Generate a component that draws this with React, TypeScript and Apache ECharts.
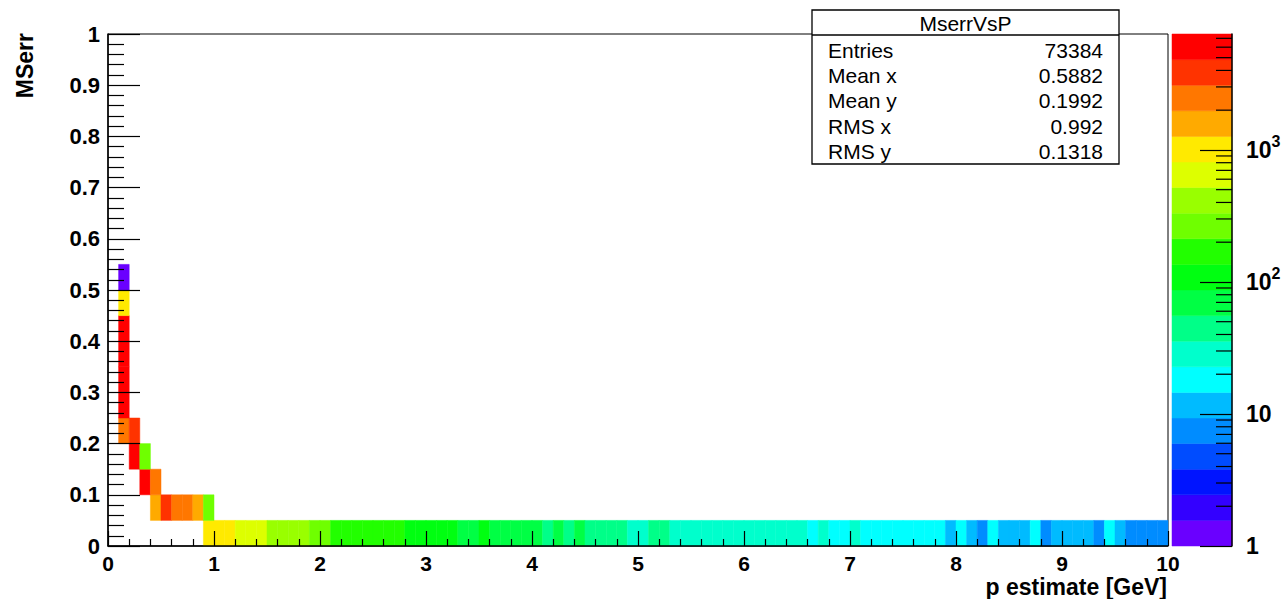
import { useEffect, useRef } from 'react';
import * as echarts from 'echarts';

// Histogram binning
const P_BIN = 0.1;
const ERR_BIN = 0.05;

// Bin contents per MSerr row, listed from the first filled p bin of that row
const ROW_ERR_000_P_START = 0.9;
const ROW_ERR_000 = [
  1100, 1050, 880,
  740, 650, 560,
  470, 430, 390, 350,
  300, 240,
  205, 190, 180, 170, 160, 150, 140,
  125, 115, 108, 100, 92,
  84, 80,
  88,
  78, 74, 70, 66, 62,
  54, 58, 53, 57,
  51, 49, 46, 43,
  34, 33,
  38, 37,
  34, 33, 32, 32, 31, 30, 30, 29, 28, 27, 27, 26, 25,
  22, 24, 21, 21, 23,
  21, 20, 20, 19, 18, 18, 17, 16,
  14, 15, 13, 9, 15,
  13, 12, 12,
  15, 9,
  12, 11, 11, 10,
  9, 15, 10,
  9, 8, 8, 7,
];
const ROW_ERR_005_P_START = 0.4;
const ROW_ERR_005 = [1550, 3900, 2700, 2200, 1500, 250];
const ROW_ERR_010_P_START = 0.3;
const ROW_ERR_010 = [5400, 2500];
const ROW_ERR_015_P_START = 0.2;
const ROW_ERR_015 = [6100, 270];
const ROW_ERR_020_P_START = 0.1;
const ROW_ERR_020 = [2300, 3600];
// p bin 0.1-0.2, MSerr from 0.25 upward
const COL_P_010_ERR_START = 0.25;
const COL_P_010 = [5300, 6800, 7400, 5600, 960, 1];

// Colour scale (log z)
const Z_MAX = 7550;
const Z_BANDS = 20;
const Z_DECADES = [0, 1, 2, 3];
const Z_MINOR_FACTORS = [2, 3, 4, 5, 6, 7, 8, 9];

// Axis ranges
const X_MIN = 0;
const X_MAX = 10;
const X_STEP = 1;
const Y_MIN = 0;
const Y_MAX = 1;
const Y_STEP = 0.1;

// Texts
const X_TITLE = 'p estimate [GeV]';
const Y_TITLE = 'MSerr';
const STAT_TITLE = 'MserrVsP';
const STAT_NAMES = ['Entries', 'Mean x', 'Mean y', 'RMS x', 'RMS y'];
const STAT_VALUES = ['73384', '0.5882', '0.1992', '0.992', '0.1318'];

// Palette, lowest band first
const PALETTE = [
  '#6a00ff', '#3300ff', '#0014ff', '#004cff', '#008cff',
  '#00bbff', '#00ffff', '#00ffcc', '#00ff88', '#00ff44',
  '#00ff11', '#22ff00', '#6fff00', '#99ff00', '#ddff00',
  '#ffea00', '#ffaa00', '#ff7700', '#ff3300', '#ff0000',
];

const FONT = '"Liberation Sans", Arial, Helvetica, sans-serif';
const LOG_ZMAX = Math.log10(Z_MAX);
const BAND_W = LOG_ZMAX / Z_BANDS;

function bandColor(count: number): string {
  const b = Math.floor(Math.log10(Math.max(count, 1)) / BAND_W);
  return PALETTE[Math.min(Z_BANDS - 1, Math.max(0, b))];
}

type Cell = [number, number, number];

function buildCells(): Cell[] {
  const cells: Cell[] = [];
  const addRow = (errLow: number, pStart: number, counts: number[]) => {
    counts.forEach((c, i) => cells.push([+(pStart + i * P_BIN).toFixed(2), errLow, c]));
  };
  addRow(0, ROW_ERR_000_P_START, ROW_ERR_000);
  addRow(0.05, ROW_ERR_005_P_START, ROW_ERR_005);
  addRow(0.1, ROW_ERR_010_P_START, ROW_ERR_010);
  addRow(0.15, ROW_ERR_015_P_START, ROW_ERR_015);
  addRow(0.2, ROW_ERR_020_P_START, ROW_ERR_020);
  COL_P_010.forEach((c, i) => cells.push([0.1, +(COL_P_010_ERR_START + i * ERR_BIN).toFixed(2), c]));
  return cells;
}

function buildOption(): any {
  const cells = buildCells();
  const bands = PALETTE.map((_, i) => [i * BAND_W, (i + 1) * BAND_W]);
  const minorTicks: number[][] = [];
  Z_DECADES.forEach((d) => {
    Z_MINOR_FACTORS.forEach((k) => {
      const v = d + Math.log10(k);
      if (v < LOG_ZMAX) minorTicks.push([v]);
    });
  });

  const tickLabel = { color: '#000', fontFamily: FONT, fontWeight: 'bold', fontSize: 22 };

  const textEl = (x: number, y: number, text: string, font: string, align: string, vAlign = 'middle', extra: any = {}) => ({
    type: 'text',
    x,
    y,
    ...extra,
    style: {
      text,
      font,
      fill: '#000',
      align,
      textAlign: align,
      verticalAlign: vAlign,
      textVerticalAlign: vAlign,
    },
  });

  const statFont = `21px ${FONT}`;
  const statChildren: any[] = [
    { type: 'rect', shape: { x: 812, y: 10, width: 307, height: 154 }, style: { fill: '#fff', stroke: '#000', lineWidth: 1.3 } },
    { type: 'line', shape: { x1: 812, y1: 35, x2: 1119, y2: 35 }, style: { stroke: '#000', lineWidth: 1.3 } },
    textEl(965.5, 23, STAT_TITLE, statFont, 'center'),
  ];
  STAT_NAMES.forEach((name, i) => {
    const y = 50.5 + i * 25.2;
    statChildren.push(textEl(828, y, name, statFont, 'left'));
    statChildren.push(textEl(1103, y, STAT_VALUES[i], statFont, 'right'));
  });

  return {
    animation: false,
    backgroundColor: '#fff',
    grid: [
      { left: 108, top: 34, width: 1060, height: 512, show: true, borderColor: '#000', borderWidth: 1, backgroundColor: 'transparent' },
      { left: 1172, top: 34, width: 60, height: 512, show: false },
    ],
    xAxis: [
      {
        gridIndex: 0,
        type: 'value',
        min: X_MIN,
        max: X_MAX,
        interval: X_STEP,
        z: 5,
        axisLine: { show: true, onZero: false, lineStyle: { color: '#000', width: 1.5 } },
        axisTick: { show: true, inside: true, length: 15, lineStyle: { color: '#000', width: 1.2 } },
        minorTick: { show: true, splitNumber: 5, length: 7, lineStyle: { color: '#000', width: 1.2 } },
        splitLine: { show: false },
        minorSplitLine: { show: false },
        axisLabel: { ...tickLabel, fontSize: 21, margin: 7 },
      },
      { gridIndex: 1, type: 'value', min: 0, max: 1, show: false },
    ],
    yAxis: [
      {
        gridIndex: 0,
        type: 'value',
        min: Y_MIN,
        max: Y_MAX,
        interval: Y_STEP,
        z: 5,
        axisLine: { show: true, onZero: false, lineStyle: { color: '#000', width: 1.5 } },
        axisTick: { show: true, inside: true, length: 32, lineStyle: { color: '#000', width: 1.2 } },
        minorTick: { show: true, splitNumber: 5, length: 16, lineStyle: { color: '#000', width: 1.2 } },
        splitLine: { show: false },
        minorSplitLine: { show: false },
        axisLabel: { ...tickLabel, margin: 8 },
      },
      {
        gridIndex: 1,
        type: 'value',
        position: 'right',
        min: 0,
        max: LOG_ZMAX,
        interval: 1,
        z: 5,
        axisLine: { show: true, onZero: false, lineStyle: { color: '#000', width: 1.5 } },
        axisTick: { show: true, inside: true, length: 32, customValues: Z_DECADES, lineStyle: { color: '#000', width: 1.2 } },
        splitLine: { show: false },
        axisLabel: {
          margin: 14,
          customValues: Z_DECADES,
          formatter: (v: number) => {
            const d = Math.round(v);
            if (Math.abs(v - d) > 1e-6) return '';
            if (d === 0) return '{b|1}';
            if (d === 1) return '{b|10}';
            return `{b|10}{sup|${d}}`;
          },
          rich: {
            b: { ...tickLabel, fontSize: 23, lineHeight: 32, verticalAlign: 'middle' },
            sup: { ...tickLabel, fontSize: 16, lineHeight: 16, verticalAlign: 'top' },
          },
        },
      },
    ],
    series: [
      {
        type: 'custom',
        name: 'MserrVsP',
        xAxisIndex: 0,
        yAxisIndex: 0,
        z: 2,
        data: cells,
        encode: { x: 0, y: 1 },
        renderItem: (_params: any, api: any) => {
          const p = api.value(0);
          const e = api.value(1);
          const c = api.value(2);
          const a = api.coord([p, e]);
          const b = api.coord([p + P_BIN, e + ERR_BIN]);
          const fill = bandColor(c);
          return {
            type: 'rect',
            shape: { x: a[0], y: b[1], width: b[0] - a[0], height: a[1] - b[1] },
            style: { fill, stroke: fill, lineWidth: 0.5 },
          };
        },
      },
      {
        type: 'custom',
        name: 'palette',
        xAxisIndex: 1,
        yAxisIndex: 1,
        z: 2,
        data: bands,
        encode: { y: [0, 1] },
        renderItem: (params: any, api: any) => {
          const a = api.coord([0, api.value(0)]);
          const b = api.coord([1, api.value(1)]);
          const fill = PALETTE[params.dataIndex];
          return {
            type: 'rect',
            shape: { x: a[0], y: b[1], width: b[0] - a[0], height: a[1] - b[1] },
            style: { fill, stroke: fill, lineWidth: 0.5 },
          };
        },
      },
      {
        type: 'custom',
        name: 'palette minor ticks',
        xAxisIndex: 1,
        yAxisIndex: 1,
        z: 4,
        data: minorTicks,
        encode: { y: 0 },
        renderItem: (_params: any, api: any) => {
          const p = api.coord([1, api.value(0)]);
          return {
            type: 'line',
            shape: { x1: p[0], y1: p[1], x2: p[0] - 16, y2: p[1] },
            style: { stroke: '#000', lineWidth: 1.2 },
          };
        },
      },
    ],
    graphic: [
      textEl(1167, 587, X_TITLE, `bold 23px ${FONT}`, 'right', 'middle', { z: 50 }),
      textEl(25, 33, Y_TITLE, `bold 23px ${FONT}`, 'right', 'middle', { rotation: Math.PI / 2, z: 50 }),
      { type: 'group', z: 100, children: statChildren },
    ],
  };
}

export default function App() {
  const ref = useRef<HTMLDivElement>(null);
  useEffect(() => {
    if (!ref.current) return;
    const chart = echarts.init(ref.current, null, { renderer: 'svg' });
    chart.setOption(buildOption());
    return () => chart.dispose();
  }, []);
  return (
    <div
      ref={ref}
      style={{ position: 'fixed', left: 0, top: 0, width: 1286, height: 599, background: '#fff' }}
    />
  );
}
